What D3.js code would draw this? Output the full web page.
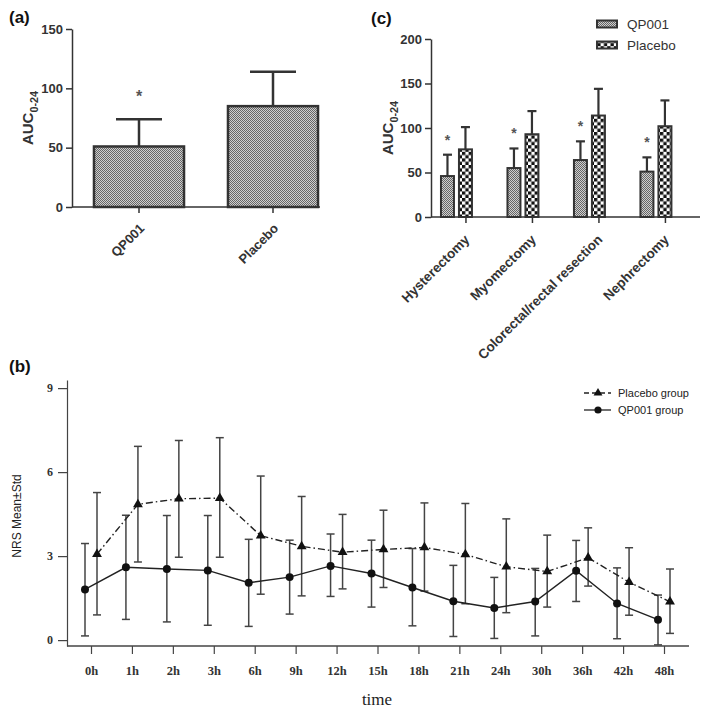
<!DOCTYPE html>
<html><head><meta charset="utf-8">
<script src="https://cdn.jsdelivr.net/npm/d3@7"></script>
<style>body{margin:0;background:#fff}svg{display:block}</style>
</head><body>
<script>
// ---- Panel (a) data
const aCategories = ["QP001", "Placebo"];
const aMeans = [51, 85];
const aUpper = [74, 114];
const aStars = [true, false];
const aTicks = [0, 50, 100, 150];

// ---- Panel (c) data
const cCategories = ["Hysterectomy", "Myomectomy", "Colorectal/rectal resection", "Nephrectomy"];
const cSeries = ["QP001", "Placebo"];
const cQP001 = [46, 55, 64, 51];
const cQP001Upper = [70, 77, 85, 67];
const cPlacebo = [76, 93, 114, 102];
const cPlaceboUpper = [101, 119, 144, 131];
const cTicks = [0, 50, 100, 150, 200];

// ---- Panel (b) data
const bTimes = ["0h","1h","2h","3h","6h","9h","12h","15h","18h","21h","24h","30h","36h","42h","48h"];
const qpMean  = [1.81,2.60,2.54,2.49,2.05,2.25,2.65,2.38,1.88,1.39,1.15,1.38,2.48,1.31,0.73];
const qpUpper = [3.45,4.46,4.45,4.45,3.60,3.57,3.79,3.57,3.27,2.67,2.24,2.56,3.56,2.58,1.61];
const qpLower = [0.15,0.74,0.65,0.53,0.49,0.93,1.56,1.18,0.51,0.13,0.06,0.15,1.38,0.05,-0.17];
const plMean  = [3.07,4.85,5.05,5.07,3.73,3.35,3.14,3.24,3.31,3.06,2.62,2.45,2.94,2.07,1.37];
const plUpper = [5.27,6.92,7.13,7.23,5.86,5.13,4.49,4.64,4.90,4.88,4.33,3.75,4.01,3.30,2.54];
const plLower = [0.90,2.79,2.96,2.96,1.64,1.58,1.83,1.88,1.75,1.30,0.98,1.18,1.93,0.89,0.24];
const bTicks = [0, 3, 6, 9];

const W = 709, H = 708;
const svg = d3.select("body").append("svg").attr("width", W).attr("height", H);
const defs = svg.append("defs");
const ink = "#333";
const sans = "Arial, 'Liberation Sans', sans-serif";
const serif = "'Times New Roman', 'Liberation Serif', serif";

// patterns
const stip = defs.append("pattern").attr("id","stip").attr("width",2).attr("height",2).attr("patternUnits","userSpaceOnUse");
stip.append("rect").attr("width",2).attr("height",2).attr("fill","#cfcfcf");
stip.append("rect").attr("width",1).attr("height",1).attr("fill","#666");
stip.append("rect").attr("x",1).attr("y",1).attr("width",1).attr("height",1).attr("fill","#666");
const chk = defs.append("pattern").attr("id","chk").attr("width",6.6).attr("height",6.6).attr("patternUnits","userSpaceOnUse");
chk.append("rect").attr("width",6.6).attr("height",6.6).attr("fill","#fff");
chk.append("rect").attr("width",3.3).attr("height",3.3).attr("fill","#111");
chk.append("rect").attr("x",3.3).attr("y",3.3).attr("width",3.3).attr("height",3.3).attr("fill","#111");

function styleAxis(g, font, size, weight) {
  g.selectAll("path,line").attr("stroke", ink).attr("stroke-width", 1.5);
  g.selectAll("text").attr("fill", ink).style("font-family", font).style("font-size", size + "px").style("font-weight", weight);
}
function aucLabel(x, y, size) {
  const t = svg.append("text").attr("transform", `translate(${x},${y}) rotate(-90)`)
    .attr("text-anchor","middle").attr("fill", ink)
    .style("font-family", sans).style("font-weight","bold").style("font-size", size + "px");
  t.append("tspan").text("AUC");
  t.append("tspan").attr("dy", size*0.3).style("font-size", (size*0.72) + "px").text("0-24");
}
function panelLabel(x, y, s) {
  svg.append("text").attr("x", x).attr("y", y).text(s).attr("fill","#111")
    .style("font-family", sans).style("font-weight","bold").style("font-size","17px");
}

// ================= Panel (a)
{
  const x = d3.scaleBand().domain(aCategories).range([72, 340]).paddingInner(0.328).paddingOuter(0.164);
  const y = d3.scaleLinear().domain([0, 150]).range([207, 29]);
  const g = svg.append("g");
  aCategories.forEach((c, i) => {
    const cx = x(c) + x.bandwidth()/2;
    g.append("line").attr("x1", cx).attr("x2", cx).attr("y1", y(aMeans[i])).attr("y2", y(aUpper[i])).attr("stroke", ink).attr("stroke-width", 2.5);
    g.append("line").attr("x1", cx-23).attr("x2", cx+23).attr("y1", y(aUpper[i])).attr("y2", y(aUpper[i])).attr("stroke", ink).attr("stroke-width", 2.5);
    if (aStars[i]) g.append("text").attr("x", cx).attr("y", y(aUpper[i]) - 17).attr("text-anchor","middle").text("*")
      .attr("fill","#555").style("font-family", sans).style("font-size","16px").style("font-weight","bold");
  });
  g.selectAll("rect.bar").data(aCategories).join("rect").attr("class","bar")
    .attr("x", d => x(d)).attr("width", x.bandwidth())
    .attr("y", (d,i) => y(aMeans[i])).attr("height", (d,i) => y(0) - y(aMeans[i]))
    .attr("fill","url(#stip)").attr("stroke", ink).attr("stroke-width", 2.5);
  const ya = svg.append("g").attr("transform","translate(72,0)").call(d3.axisLeft(y).tickValues(aTicks).tickSize(6).tickSizeOuter(0));
  styleAxis(ya, sans, 13, "bold");
  const xa = svg.append("g").attr("transform","translate(0,207)").call(d3.axisBottom(x).tickSize(6).tickSizeOuter(0));
  xa.select(".domain").remove();
  styleAxis(xa, sans, 13, "bold");
  xa.selectAll("text").attr("text-anchor","end").attr("transform","translate(3,19) rotate(-45)").attr("dy","0.35em").attr("y",0).attr("x",0);
  svg.append("line").attr("x1",72).attr("x2",320).attr("y1",207).attr("y2",207).attr("stroke",ink).attr("stroke-width",1.5);
  aucLabel(33, 118, 15);
  panelLabel(9, 23, "(a)");
}

// ================= Panel (c)
{
  const x0 = d3.scaleBand().domain(cCategories).range([431, 681.4]).paddingInner(0.534).paddingOuter(0.15);
  const x1 = d3.scaleBand().domain(cSeries).range([0, x0.bandwidth()]).paddingInner(0.278).paddingOuter(0);
  const y = d3.scaleLinear().domain([0, 200]).range([217, 39]);
  const vals = {QP001: cQP001, Placebo: cPlacebo};
  const ups = {QP001: cQP001Upper, Placebo: cPlaceboUpper};
  const fills = {QP001: "url(#stip)", Placebo: "url(#chk)"};
  const g = svg.append("g");
  cCategories.forEach((c, i) => {
    cSeries.forEach(s => {
      const bx = x0(c) + x1(s), cx = bx + x1.bandwidth()/2;
      g.append("line").attr("x1", cx).attr("x2", cx).attr("y1", y(vals[s][i])).attr("y2", y(ups[s][i])).attr("stroke", ink).attr("stroke-width", 2.2);
      g.append("line").attr("x1", cx-4.5).attr("x2", cx+4.5).attr("y1", y(ups[s][i])).attr("y2", y(ups[s][i])).attr("stroke", ink).attr("stroke-width", 2.2);
      g.append("rect").attr("x", bx).attr("width", x1.bandwidth()).attr("y", y(vals[s][i])).attr("height", y(0)-y(vals[s][i]))
        .attr("fill", fills[s]).attr("stroke", ink).attr("stroke-width", 2);
      if (s === "QP001") g.append("text").attr("x", cx).attr("y", y(ups[s][i]) - 10).attr("text-anchor","middle").text("*")
        .attr("fill","#555").style("font-family", sans).style("font-size","14px").style("font-weight","bold");
    });
  });
  const ya = svg.append("g").attr("transform","translate(431,0)").call(d3.axisLeft(y).tickValues(cTicks).tickSize(6).tickSizeOuter(0));
  styleAxis(ya, sans, 13, "bold");
  const tickPos = d3.scaleOrdinal().domain(cCategories).range(cCategories.map(c => x0(c) + x1("Placebo") + x1.bandwidth()/2));
  const xa = svg.append("g").attr("transform","translate(0,217)").call(d3.axisBottom(tickPos).tickSize(6).tickSizeOuter(0));
  xa.select(".domain").remove();
  styleAxis(xa, sans, 13.5, "bold");
  xa.selectAll("text").attr("text-anchor","end").attr("transform","translate(1,20) rotate(-45)").attr("dy","0.35em").attr("y",0).attr("x",0);
  svg.append("line").attr("x1",431).attr("x2",700).attr("y1",217).attr("y2",217).attr("stroke",ink).attr("stroke-width",1.5);
  aucLabel(393, 128, 15);
  panelLabel(371, 24, "(c)");
  cSeries.forEach((s, i) => {
    const ly = 24 + i*21;
    svg.append("rect").attr("x",597).attr("y",ly-3.5).attr("width",20).attr("height",7).attr("fill",fills[s]).attr("stroke",ink).attr("stroke-width",2);
    svg.append("text").attr("x",627).attr("y",ly).attr("dy","0.36em").text(s).attr("fill",ink)
      .style("font-family", sans).style("font-size","13.5px");
  });
}

// ================= Panel (b)
{
  const x = d3.scalePoint().domain(bTimes).range([91, 664]);
  const y = d3.scaleLinear().domain([-0.21, 9.29]).range([646, 380]);
  const off = 6;
  const g = svg.append("g");
  const series = [
    {name:"Placebo group", mean: plMean, up: plUpper, lo: plLower, dx: off, dash: "7,3,1.5,3", shape: d3.symbolTriangle},
    {name:"QP001 group", mean: qpMean, up: qpUpper, lo: qpLower, dx: -off, dash: null, shape: d3.symbolCircle}
  ];
  series.forEach(s => {
    bTimes.forEach((t, i) => {
      const cx = x(t) + s.dx;
      g.append("line").attr("x1",cx).attr("x2",cx).attr("y1",y(s.lo[i])).attr("y2",y(s.up[i])).attr("stroke","#444").attr("stroke-width",1.5);
      [s.lo[i], s.up[i]].forEach(v => g.append("line").attr("x1",cx-4).attr("x2",cx+4).attr("y1",y(v)).attr("y2",y(v)).attr("stroke","#444").attr("stroke-width",1.5));
    });
  });
  series.forEach(s => {
    const line = d3.line().x((d,i) => x(bTimes[i]) + s.dx).y(d => y(d));
    const p = g.append("path").attr("d", line(s.mean)).attr("fill","none").attr("stroke","#222").attr("stroke-width",1.4);
    if (s.dash) p.attr("stroke-dasharray", s.dash);
    const sym = d3.symbol().type(s.shape).size(s.shape === d3.symbolCircle ? 50 : 42);
    g.selectAll(null).data(s.mean).join("path").attr("d", sym)
      .attr("transform", (d,i) => `translate(${x(bTimes[i]) + s.dx},${y(d)})`).attr("fill","#111");
  });
  const ya = svg.append("g").attr("transform","translate(67,0)").call(d3.axisLeft(y).tickValues(bTicks).tickSize(9).tickSizeOuter(0).tickPadding(5));
  styleAxis(ya, serif, 12, "bold");
  ya.selectAll("path,line").attr("stroke-width",1.2).attr("stroke","#444");
  const xa = svg.append("g").attr("transform","translate(0,646)").call(d3.axisBottom(x).tickSize(8).tickSizeOuter(0).tickPadding(12));
  xa.select(".domain").remove();
  styleAxis(xa, serif, 12.5, "bold");
  xa.selectAll("line").attr("stroke-width",1.2).attr("stroke","#444");
  svg.append("line").attr("x1",67).attr("x2",689).attr("y1",646).attr("y2",646).attr("stroke","#444").attr("stroke-width",1.4);
  svg.append("text").attr("x",377).attr("y",705).attr("text-anchor","middle").text("time").attr("fill","#222")
    .style("font-family", serif).style("font-size","17px");
  svg.append("text").attr("transform","translate(21,516) rotate(-90)").attr("text-anchor","middle").text("NRS Mean±Std")
    .attr("fill","#222").style("font-family", sans).style("font-size","12px");
  panelLabel(9, 372, "(b)");
  series.forEach((s, i) => {
    const ly = 393 + i*17;
    const l = svg.append("line").attr("x1",584).attr("x2",611).attr("y1",ly).attr("y2",ly).attr("stroke","#222").attr("stroke-width",1.3);
    if (s.dash) l.attr("stroke-dasharray","5,3");
    const sym = d3.symbol().type(s.shape).size(s.shape === d3.symbolCircle ? 40 : 34);
    svg.append("path").attr("d", sym).attr("transform",`translate(598,${ly})`).attr("fill","#111");
    svg.append("text").attr("x",618).attr("y",ly).attr("dy","0.35em").text(s.name).attr("fill","#222")
      .style("font-family", sans).style("font-size","11px");
  });
}
</script>
</body></html>
